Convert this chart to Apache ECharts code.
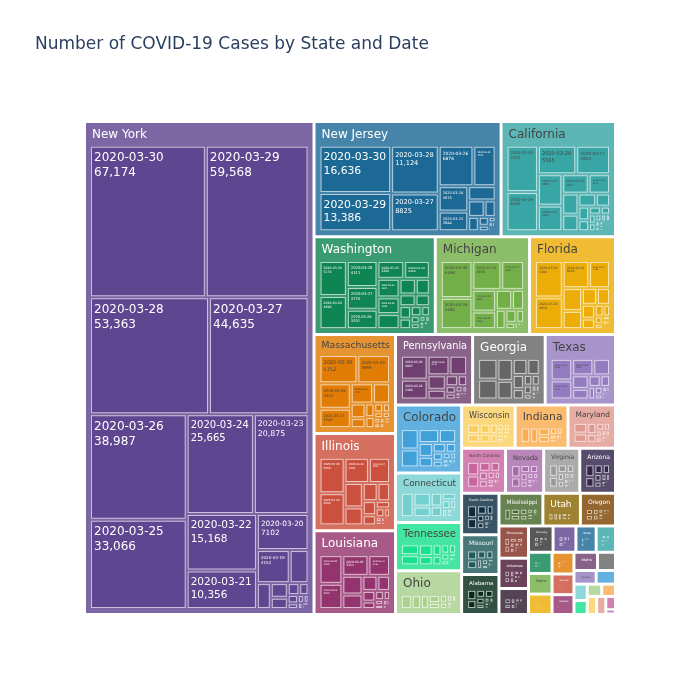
<!DOCTYPE html>
<html><head><meta charset="utf-8">
<script src="https://cdn.jsdelivr.net/npm/echarts@6/dist/echarts.min.js"></script>
<style>html,body{margin:0;padding:0;background:#fff}#c{width:700px;height:700px}</style>
</head><body><div id="c"></div>
<script>
// ---- categories ----
const dates = ['2020-03-30','2020-03-29','2020-03-28','2020-03-27','2020-03-26','2020-03-25','2020-03-24','2020-03-23','2020-03-22','2020-03-21',
'2020-03-20','2020-03-19','2020-03-18','2020-03-17','2020-03-16','2020-03-15','2020-03-14','2020-03-13','2020-03-12','2020-03-11',
'2020-03-10','2020-03-09','2020-03-08','2020-03-07','2020-03-06','2020-03-05','2020-03-04','2020-03-03','2020-03-02','2020-03-01',
'2020-02-29','2020-02-28','2020-02-27','2020-02-26','2020-02-25','2020-02-24','2020-02-23','2020-02-22','2020-02-21','2020-02-20',
'2020-02-19','2020-02-18','2020-02-17','2020-02-16','2020-02-15','2020-02-14','2020-02-13','2020-02-12','2020-02-11','2020-02-10',
'2020-02-09','2020-02-08','2020-02-07','2020-02-06','2020-02-05','2020-02-04','2020-02-03','2020-02-02','2020-02-01',
'2020-01-31','2020-01-30','2020-01-29','2020-01-28','2020-01-27','2020-01-26','2020-01-25','2020-01-24','2020-01-23','2020-01-22','2020-01-21'];

// ---- cumulative cases per state, newest date first (aligned with dates) ----
const newYork = [67174,59568,53363,44635,38987,33066,25665,20875,15168,10356,7102,4152,2382,1374,950,732,525,421,325,220,173,142,106,76,33,22,11,2,1,1];
const newJersey = [16636,13386,11124,8825,6876,4402,3675,2844,1914,1327,890,742,427,267,178,98,69,50,29,23,15,6,6,4,4,2,1];
const california = [7425,6266,5565,4914,3899,3180,2617,2108,1733,1364,1177,924,753,598,472,372,293,252,200,157,144,114,88,81,60,53,36,24,21,12,
 10,10,10,10,10,10,10,10,10,10,9,8,8,8,8,8,7,7,7,7,7,6,6,6,6,6,6,6,3,3,2,2,2,2,2,1];
const washington = [5179,4896,4311,3770,3207,2580,2469,2221,1996,1793,1376,1187,1014,904,769,643,568,457,337,267,173,136,102,79,71,39,27,18,14,11,6,
 1,1,1,1,1,1,1,1,1,1,1,1,1,1,1,1,1,1,1,1,1,1,1,1,1,1,1,1,1,1,1,1,1,1,1,1,1,1,1];
const michigan = [6498,5486,4650,3657,2856,2294,1791,1328,1037,788,552,334,110,65,53,33,25,16,12,2];
const florida = [5696,4950,4038,3198,2484,1977,1412,1227,1007,763,563,432,328,216,160,116,77,50,35,28,15,14,12,7,4,3,2,2,2,2];
const massachusetts = [5752,4955,4257,3240,2417,1838,1159,777,646,525,413,328,256,218,164,138,123,108,95,92,41,28,13,8,2,2,2,1,1,1,
 1,1,1,1,1,1,1,1,1,1,1,1,1,1,1,1,1,1,1,1,1,1,1,1,1,1,1,1,1];
const illinois = [5056,4596,3491,3026,2538,1865,1535,1285,1049,753,585,422,288,161,105,93,64,46,32,25,19,11,7,6,6,4,4,3,3,3,3,
 2,2,2,2,2,2,2,2,2,2,2,2,2,2,2,2,2,2,2,2,2,2,2,2,2,2,2,2,2,2,1,1,1,1,1,1];
const louisiana = [4025,3540,3315,2746,2305,1795,1388,1172,837,585,479,347,240,196,136,91,77,36,19,14,6,1];
const pennsylvania = [4087,3394,2751,2218,1687,1127,851,644,479,371,268,185,133,96,76,63,47,41,22,16,12,10,4,2,2];
const georgia = [2809,2683,2366,2001,1643,1387,1097,800,620,552,485,287,197,146,121,99,66,42,31,22,17,12,6,2,2,2,2,2,2];
const texas = [3266,2872,2455,1937,1563,1229,974,758,566,395,260,170,110,85,64,57,43,39,27,21,15,13,11,10,9,1,1];
const colorado = [2627,2307,2061,1734,1433,1086,912,720,591,475,363,277,183,160,131,101,77,49,33,17,15,8,8,8,2,2];
const connecticut = [2571,1993,1524,1291,1012,875,618,415,327,194,159,96,68,41,26,20,11,5,3,2,1,1,1];
const tennessee = [1834,1720,1511,1203,957,784,667,615,505,371,233,154,98,73,52,39,32,26,18,9,7,4,3,1,1,1];
const ohio = [1933,1653,1406,1137,867,704,564,442,351,247,169,119,88,67,50,37,26,13,5,4,3,3,3];
const wisconsin = [1267,1112,1055,926,728,621,457,416,381,281,206,155,106,72,47,32,27,19,8,6,3,1,1,1,
 1,1,1,1,1,1,1,1,1,1,1,1,1,1,1,1,1,1,1,1,1,1,1,1,1,1,1,1,1,1,1];
const indiana = [1786,1514,1232,981,645,477,365,259,201,126,79,56,39,24,20,15,12,10,6,6,4,2,1,1,1];
const maryland = [1413,1239,992,774,580,425,349,290,245,194,150,107,85,60,41,31,26,18,12,9,6,5,5,3,3];
const northCarolina = [1307,1165,898,738,579,491,398,301,255,184,137,97,65,38,26,20,15,7,7,2,2,2,2,1,1,1];
const nevada = [1114,920,738,621,535,420,321,278,245,190,126,90,69,55,45,21,18,14,7,4,4,4,4,2,1,1];
const virginia = [1020,890,739,605,466,396,293,256,220,161,114,99,67,51,45,41,30,17,9,8,4,3,2];
const arizona = [1120,919,773,665,508,401,326,235,152,104,78,45,28,20,13,12,9,6,6,5,5,5,3,2,2,1,1,1,
 1,1,1,1,1,1,1,1,1,1,1,1,1,1,1,1,1,1,1,1,1,1,1,1,1,1,1,1,1,1,1,1,1,1,1,1,1];
const southCarolina = [1083,925,774,539,456,424,298,195,171,124,81,60,47,33,28,19,13,12,10,7,2,2,2,2];
const missouri = [1031,918,838,670,502,356,255,183,133,94,58,31,17,9,6,5,3,2,2,1,1,1];
const alabama = [964,827,680,694,538,386,242,196,159,124,82,68,51,39,28,12,6,5,1];
const mississippi = [937,758,663,579,485,377,320,249,207,140,80,50,34,21,13,10,6,1,1,1];
const utah = [806,719,602,480,397,298,257,181,136,112,78,51,39,28,10,9,6,2,1,1,1,1,1,1,1];
const oregon = [606,548,479,414,327,266,209,191,161,137,114,88,75,65,47,39,36,32,24,21,15,14,14,7,3,3,3,1,1];
const minnesota = [503,441,398,346,287,262,234,169,137,115,89,77,60,54,35,21,14,9,5,3,2,1,1];
const arkansas = [473,426,386,335,280,218,202,192,168,122,100,62,33,22,16,12,9,6,1];
const districtOfColumbia = [495,401,342,304,231,187,137,116,98,77,71,40,31,22,17,16,10,10,6,5,4,4,2,1];
const kentucky = [439,394,302,248,198,163,104,99,63,47,37,26,26,21,14,10,8,8,6,4,1];
const oklahoma = [481,377,322,248,164,106,82,67,53,49,44,19,17,10,7,4,4,3,2,1,1];
const iowa = [336,298,235,179,145,124,105,90,68,45,38,29,23,22,18,17,16,14,13,8,3];
const rhodeIsland = [294,294,203,165,132,124,106,83,66,54,44,33,23,21,20,14,5,5,3,3,3,3,3,2,2,2,2,2];
const maine = [275,253,211,168,155,118,107,89,70,57,52,43,32,17,12,3,2,1];
const newHampshire = [314,258,214,158,137,108,101,78,65,44,39,26,17,13,13,7,6,6,5,4,2,2,2,2,2,2,2,1];
const delaware = [319,264,232,214,163,130,119,87,56,47,39,30,16,8,7,6,4,1,1];
const kansas = [330,261,212,168,126,98,80,57,44,34,21,18,11,8,6,6,5,2,1,1,1];
const idaho = [410,261,230,195,123,73,50,42,31,23,11,8,5,5,4,1];
const newMexico = [281,237,208,191,136,112,100,83,65,57,43,35,28,23,17,13,10,5,4];
const vermont = [256,235,211,184,158,123,95,75,52,49,29,22,19,13,12,8,5,2,1,1];
const hawaii = [204,175,151,120,95,90,77,56,48,37,26,16,10,7,4,2,2,2,1];
const montana = [177,161,147,129,108,90,65,45,31,21,15,12,10,7,6,6,5,1];
const nebraska = [145,112,95,85,73,64,52,46,38,33,27,22,19,18,17,15,14,10,5,3,3,3,3,1];
const puertoRico = [174,127,100,79,64,51,39,31,23,21,14,6,5,5,5,3];
const northDakota = [109,98,94,68,52,45,36,32,28,20,19,15,8,6,3,1,1,1];
const alaska = [114,102,85,69,59,42,36,32,22,14,12,9,6,3,1,1];
const westVirginia = [145,113,96,76,52,39,20,16,12,8,2,2,1];
const wyoming = [94,87,82,73,53,44,29,26,23,19,16,15,11,3,3,2,1,1];
const southDakota = [101,90,68,58,46,41,30,28,21,14,11,11,11,10,9,9,8,1];
const guam = [58,56,55,51,45,37,32,29,27,15,14,12,5,3,3];
const virginIslands = [30,23,22,19,17,17,7,6,6,3,2,2,1,1];
const northernMarianaIslands = [2,2];

const table = [
 ['New York', newYork], ['New Jersey', newJersey], ['California', california], ['Washington', washington],
 ['Michigan', michigan], ['Florida', florida], ['Massachusetts', massachusetts], ['Illinois', illinois],
 ['Louisiana', louisiana], ['Pennsylvania', pennsylvania], ['Georgia', georgia], ['Texas', texas],
 ['Colorado', colorado], ['Connecticut', connecticut], ['Tennessee', tennessee], ['Ohio', ohio],
 ['Wisconsin', wisconsin], ['Indiana', indiana], ['Maryland', maryland], ['North Carolina', northCarolina],
 ['Nevada', nevada], ['Virginia', virginia], ['Arizona', arizona], ['South Carolina', southCarolina],
 ['Missouri', missouri], ['Alabama', alabama], ['Mississippi', mississippi], ['Utah', utah], ['Oregon', oregon],
 ['Minnesota', minnesota], ['Arkansas', arkansas], ['District of Columbia', districtOfColumbia], ['Kentucky', kentucky],
 ['Oklahoma', oklahoma], ['Iowa', iowa], ['Rhode Island', rhodeIsland], ['Maine', maine], ['New Hampshire', newHampshire],
 ['Delaware', delaware], ['Kansas', kansas], ['Idaho', idaho], ['New Mexico', newMexico], ['Vermont', vermont],
 ['Hawaii', hawaii], ['Montana', montana], ['Nebraska', nebraska], ['Puerto Rico', puertoRico], ['North Dakota', northDakota],
 ['Alaska', alaska], ['West Virginia', westVirginia], ['Wyoming', wyoming], ['South Dakota', southDakota],
 ['Guam', guam], ['Virgin Islands', virginIslands], ['Northern Mariana Islands', northernMarianaIslands]
];

// ---- styling ----
const FONT = 'DejaVu Sans';
const prism = ['#5F4690','#1D6996','#38A6A5','#0F8554','#73AF48','#EDAD08','#E17C05','#CC503E','#94346E','#6F4070','#666666'];
function hexRgb(h){h=h.replace('#','');return [0,2,4].map(i=>parseInt(h.substr(i,2),16));}
function rgbHex(r){return '#'+r.map(v=>Math.max(0,Math.min(255,Math.round(v))).toString(16).padStart(2,'0')).join('');}
function rgbToHsl([r,g,b]){r/=255;g/=255;b/=255;const mx=Math.max(r,g,b),mn=Math.min(r,g,b);let h=0,s=0;const l=(mx+mn)/2;
 if(mx!==mn){const d=mx-mn;s=l>0.5?d/(2-mx-mn):d/(mx+mn);
  if(mx===r)h=(g-b)/d+(g<b?6:0);else if(mx===g)h=(b-r)/d+2;else h=(r-g)/d+4;h/=6;}
 return [h,s,l];}
function hue2rgb(p,q,t){if(t<0)t+=1;if(t>1)t-=1;if(t<1/6)return p+(q-p)*6*t;if(t<1/2)return q;if(t<2/3)return p+(q-p)*(2/3-t)*6;return p;}
function hslToRgb([h,s,l]){if(s===0)return [l*255,l*255,l*255];const q=l<0.5?l*(1+s):l+s-l*s,p=2*l-q;
 return [hue2rgb(p,q,h+1/3)*255,hue2rgb(p,q,h)*255,hue2rgb(p,q,h-1/3)*255];}
function lighten(hex,amt){const hsl=rgbToHsl(hexRgb(hex));hsl[2]=Math.max(0,Math.min(1,hsl[2]+amt));return rgbHex(hslToRgb(hsl));}
const palette = prism.concat(prism.map(c=>lighten(c,0.2)), prism.map(c=>lighten(c,-0.2)));
function fade(hex,f){const c=hexRgb(hex);return rgbHex(c.map(v=>v+(255-v)*f));}
function bright(hex){const c=hexRgb(hex);return (c[0]*299+c[1]*587+c[2]*114)/1000;}

const ctx = document.createElement('canvas').getContext('2d');
ctx.font = '100px "' + FONT + '"';
function em(t){return ctx.measureText(t).width/100;}
function fmt(v){return v>=10000 ? v.toLocaleString('en-US') : String(v);}

const totals = table.map(r=>r[1].reduce((a,b)=>a+b,0));
const order = table.map((r,i)=>i).sort((a,b)=>totals[b]-totals[a]);
const rankOf = {}; order.forEach((idx,r)=>{rankOf[table[idx][0]]=r;});

let stateBox = {}, leafBox = {};
function build(){
 return table.map(([name, vals], si)=>{
  const base = palette[rankOf[name] % palette.length];
  const head = fade(base, 0.18);
  const txt = bright(base) < 128 ? '#ffffff' : '#444444';
  let hfs = 12, hh = 24;
  const sb = stateBox[name];
  if (sb){ hfs = Math.min(12, (sb.w-10)/em(name), sb.h*0.3); hh = Math.max(5, Math.min(24, hfs*1.4+7)); }
  return {
   name, value: totals[si],
   itemStyle:{color: head, borderColor: head},
   upperLabel:{show:true, height: hh, fontSize: Math.max(1,hfs), color: hfs>=2 ? txt : 'rgba(0,0,0,0)', fontFamily: FONT},
   children: vals.map((v,i)=>{
     const vs = fmt(v);
     const lb = leafBox[name+'|'+dates[i]];
     let fs = 12;
     if (lb) fs = Math.min(12, (lb.w-7)/Math.max(em(dates[i]), em(vs)), (lb.h-8)/2.6);
     return {name: dates[i], value: v,
       itemStyle:{color: base, borderColor:'rgba(255,255,255,0.6)', borderWidth:1},
       label:{show: fs>=2, fontSize: Math.max(1,fs), lineHeight: Math.max(1,fs)*1.25, color: txt, fontFamily: FONT}};
   })
  };
 });
}

const chart = echarts.init(document.getElementById('c'), null, {renderer:'canvas'});
function makeOption(){
 return {
  animation:false,
  textStyle:{fontFamily: FONT},
  title:{text:'Number of COVID-19 Cases by State and Date', left:35, top:36, padding:0,
    textStyle:{fontSize:17, fontWeight:'normal', color:'#2a3f5f', fontFamily: FONT}},
  tooltip:{show:false},
  series:[{
   type:'treemap', left:86, top:123, width:528, height:490,
   roam:false, nodeClick:false, breadcrumb:{show:false},
   squareRatio:1, sort:'desc', visibleMin:0, childrenVisibleMin:0,
   label:{show:true, position:'insideTopLeft', distance:0, padding:[3,0,0,2], overflow:'none',
     formatter:p=>p.name+'\n'+fmt(p.value)},
   upperLabel:{show:true, height:24, position:'insideLeft', distance:0, padding:[0,0,0,1], overflow:'none',
     formatter:'{b}'},
   levels:[
     {itemStyle:{borderWidth:0, gapWidth:3, borderColor:'#ffffff'}, upperLabel:{show:false}},
     {itemStyle:{borderWidth:5, gapWidth:2}, upperLabel:{show:true}},
     {itemStyle:{borderWidth:1, gapWidth:0}}
   ],
   data: build()
  }]
 };
}
function collect(){
 const sm = chart.getModel().getSeriesByIndex(0);
 const tree = sm.getData().tree;
 stateBox = {}; leafBox = {};
 tree.root.eachNode(node=>{
   const l = node.getLayout(); if(!l) return;
   if (node.depth===1) stateBox[node.name] = {w:l.width, h:l.height};
   else if (node.depth===2) leafBox[node.parentNode.name+'|'+node.name] = {w:l.width, h:l.height};
 });
}
chart.setOption(makeOption());
for (let k=0;k<3;k++){ collect(); chart.setOption(makeOption(), true); }
</script>
</body></html>
